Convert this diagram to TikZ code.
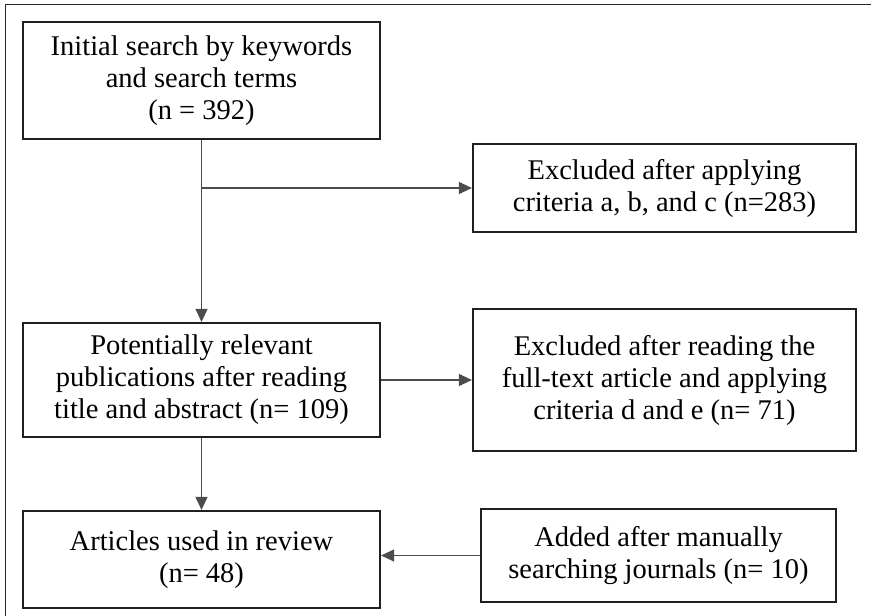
\documentclass[tikz,border=0pt]{standalone}
\usepackage{fontspec}
\setmainfont{Liberation Serif}
\usepackage{tikz}
\usetikzlibrary{arrows.meta}
\usetikzlibrary{calc}

\begin{document}
\begin{tikzpicture}
    [
        x = 1pt, y = -1pt,
        box/.style = {draw = black!88, line width = 2.2pt, align = center, inner sep = 0pt,
                      font = \fontsize{28.5}{32}\selectfont},
        link/.style = {draw = black!70, line width = 1.2pt, -{Triangle[length = 13pt, width = 12pt]}}
    ]
                \useasboundingbox (0,0) rectangle (871,616);

                % Draw the outer frame:
                \draw [black!85, line width = 1.2pt] (5.5,616) -- (5.5,4.5) -- (871,4.5);

                % Draw the boxes:
                \node [box, minimum width = 357pt, minimum height = 117pt] (Search) at (201.5,80.5)
                    {Initial search by keywords\\and search terms\\(n = 392)};
                \node [box, minimum width = 383pt, minimum height = 88pt] (ExclA) at (664.5,188)
                    {Excluded after applying\\criteria a, b, and c (n=283)};
                \node [box, minimum width = 357pt, minimum height = 114pt] (Relevant) at (201.5,380)
                    {Potentially relevant\\publications after reading\\title and abstract (n= 109)};
                \node [box, minimum width = 383pt, minimum height = 142pt] (ExclB) at (664.5,380)
                    {Excluded after reading the\\full-text article and applying\\criteria d and e (n= 71)};
                \node [box, minimum width = 357pt, minimum height = 97pt] (Review) at (201.5,559.5)
                    {Articles used in review\\(n= 48)};
                \node [box, minimum width = 355pt, minimum height = 93pt] (Added) at (658.5,555.5)
                    {Added after manually\\searching journals (n= 10)};

                % Draw the connectors:
                \coordinate (Split) at (Search.south |- ExclA.west);
                \draw [link] (Search) -- (Relevant);
                \draw [link] (Split) -- (ExclA.west);
                \draw [link] (Relevant) -- (ExclB);
                \draw [link] (Relevant) -- (Review);
                \draw [link] (Added.west) -- (Added.west -| Review.east);
\end{tikzpicture}
\end{document}
